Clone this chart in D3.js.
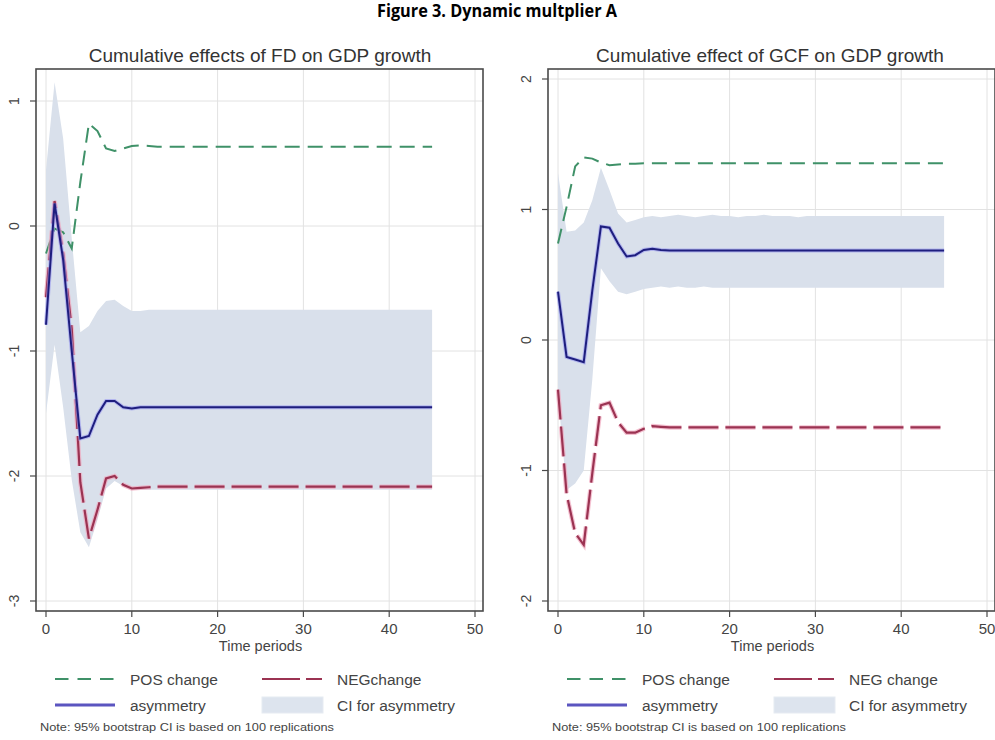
<!DOCTYPE html>
<html>
<head>
<meta charset="utf-8">
<script src="https://cdn.jsdelivr.net/npm/d3@7"></script>
<style>
  body { margin: 0; background: #fff; }
  svg { display: block; }
</style>
</head>
<body>
<svg id="chart"></svg>
<script>
const width = 995, height = 740;
const pos_color = "#3f9168", neg_color = "#9b3352", neg_halo = "#f0a6bd";
const asym_color = "#1e1e7e", asym_halo = "#9a9af0", ci_color = "#d9e0eb";
const grid_color = "#e2e2e2", frame_color = "#4a4a4a", text_color = "#333";
const font_family = "'Liberation Sans', Arial, sans-serif";

// time periods 0..45
const periods = d3.range(0, 46);
const xTicks = [0, 10, 20, 30, 40, 50];

// ---- Panel A: FD ----
const fdPos = [-0.22, -0.02, -0.05, -0.18, 0.35, 0.82, 0.76, 0.62, 0.60, 0.62, 0.64, 0.645, 0.64,
  0.635, 0.635, 0.635, 0.635, 0.635, 0.635, 0.635, 0.635, 0.635, 0.635, 0.635, 0.635, 0.635, 0.635,
  0.635, 0.635, 0.635, 0.635, 0.635, 0.635, 0.635, 0.635, 0.635, 0.635, 0.635, 0.635, 0.635, 0.635,
  0.635, 0.635, 0.635, 0.635, 0.635];
const fdNeg = [-0.57, 0.20, -0.22, -0.82, -2.05, -2.50, -2.27, -2.02, -2.00, -2.07, -2.10, -2.095, -2.09,
  -2.085, -2.085, -2.085, -2.085, -2.085, -2.085, -2.085, -2.085, -2.085, -2.085, -2.085, -2.085, -2.085,
  -2.085, -2.085, -2.085, -2.085, -2.085, -2.085, -2.085, -2.085, -2.085, -2.085, -2.085, -2.085, -2.085,
  -2.085, -2.085, -2.085, -2.085, -2.085, -2.085, -2.085];
const fdAsym = [-0.79, 0.18, -0.27, -1.00, -1.70, -1.68, -1.51, -1.40, -1.40, -1.45, -1.46, -1.45, -1.45,
  -1.45, -1.45, -1.45, -1.45, -1.45, -1.45, -1.45, -1.45, -1.45, -1.45, -1.45, -1.45, -1.45, -1.45,
  -1.45, -1.45, -1.45, -1.45, -1.45, -1.45, -1.45, -1.45, -1.45, -1.45, -1.45, -1.45, -1.45, -1.45,
  -1.45, -1.45, -1.45, -1.45, -1.45];
const fdUpper = [0.45, 1.15, 0.70, -0.10, -0.85, -0.80, -0.68, -0.60, -0.59, -0.64, -0.68, -0.68, -0.67,
  -0.67, -0.67, -0.67, -0.67, -0.67, -0.67, -0.67, -0.67, -0.67, -0.67, -0.67, -0.67, -0.67, -0.67,
  -0.67, -0.67, -0.67, -0.67, -0.67, -0.67, -0.67, -0.67, -0.67, -0.67, -0.67, -0.67, -0.67, -0.67,
  -0.67, -0.67, -0.67, -0.67, -0.67];
const fdLower = [-1.50, -0.95, -1.45, -2.03, -2.45, -2.57, -2.35, -2.10, -2.04, -2.08, -2.11, -2.11, -2.11,
  -2.11, -2.11, -2.11, -2.11, -2.11, -2.11, -2.11, -2.11, -2.11, -2.11, -2.11, -2.11, -2.11, -2.11,
  -2.11, -2.11, -2.11, -2.11, -2.11, -2.11, -2.11, -2.11, -2.11, -2.11, -2.11, -2.11, -2.11, -2.11,
  -2.11, -2.11, -2.11, -2.11, -2.11];
const fdYTicks = [1, 0, -1, -2, -3];

// ---- Panel B: GCF ----
const gcfPos = [0.74, 1.02, 1.33, 1.40, 1.39, 1.36, 1.34, 1.345, 1.35, 1.35, 1.355, 1.355, 1.355,
  1.355, 1.355, 1.355, 1.355, 1.355, 1.355, 1.355, 1.355, 1.355, 1.355, 1.355, 1.355, 1.355, 1.355,
  1.355, 1.355, 1.355, 1.355, 1.355, 1.355, 1.355, 1.355, 1.355, 1.355, 1.355, 1.355, 1.355, 1.355,
  1.355, 1.355, 1.355, 1.355, 1.355];
const gcfNeg = [-0.38, -1.18, -1.48, -1.57, -1.02, -0.50, -0.48, -0.63, -0.71, -0.71, -0.68, -0.66, -0.665,
  -0.67, -0.67, -0.67, -0.67, -0.67, -0.67, -0.67, -0.67, -0.67, -0.67, -0.67, -0.67, -0.67, -0.67,
  -0.67, -0.67, -0.67, -0.67, -0.67, -0.67, -0.67, -0.67, -0.67, -0.67, -0.67, -0.67, -0.67, -0.67,
  -0.67, -0.67, -0.67, -0.67, -0.67];
const gcfAsym = [0.37, -0.13, -0.15, -0.17, 0.38, 0.87, 0.86, 0.74, 0.64, 0.65, 0.69, 0.70, 0.69,
  0.685, 0.685, 0.685, 0.685, 0.685, 0.685, 0.685, 0.685, 0.685, 0.685, 0.685, 0.685, 0.685, 0.685,
  0.685, 0.685, 0.685, 0.685, 0.685, 0.685, 0.685, 0.685, 0.685, 0.685, 0.685, 0.685, 0.685, 0.685,
  0.685, 0.685, 0.685, 0.685, 0.685];
const gcfUpper = [1.28, 0.83, 0.84, 0.90, 1.07, 1.32, 1.15, 0.97, 0.90, 0.92, 0.94, 0.95, 0.94,
  0.95, 0.96, 0.95, 0.94, 0.95, 0.96, 0.95, 0.95, 0.94, 0.95, 0.95, 0.96, 0.95, 0.95,
  0.95, 0.94, 0.95, 0.95, 0.95, 0.95, 0.95, 0.95, 0.95, 0.95, 0.95, 0.95, 0.95, 0.95,
  0.95, 0.95, 0.95, 0.95, 0.95];
const gcfLower = [-0.42, -1.15, -1.10, -1.00, -0.30, 0.55, 0.45, 0.37, 0.35, 0.37, 0.39, 0.40, 0.41,
  0.40, 0.41, 0.40, 0.40, 0.41, 0.40, 0.40, 0.40, 0.40, 0.40, 0.40, 0.40, 0.40, 0.40,
  0.40, 0.40, 0.40, 0.40, 0.40, 0.40, 0.40, 0.40, 0.40, 0.40, 0.40, 0.40, 0.40, 0.40,
  0.40, 0.40, 0.40, 0.40, 0.40];
const gcfYTicks = [2, 1, 0, -1, -2];

const svg = d3.select("#chart")
  .attr("width", width)
  .attr("height", height)
  .style("font-family", font_family);

////////////////////////////////////
//          Main Title            //
////////////////////////////////////

svg.append("text")
  .attr("x", 497)
  .attr("y", 17)
  .attr("text-anchor", "middle")
  .attr("font-family", "'Open Sans', Lato, sans-serif")
  .attr("font-weight", "bold")
  .attr("font-size", "17px")
  .attr("textLength", 240)
  .attr("lengthAdjust", "spacingAndGlyphs")
  .attr("fill", "#000")
  .text("Figure 3. Dynamic multplier A");

////////////////////////////////////
//          Draw a Panel          //
////////////////////////////////////

function drawPanel(opt) {
  const g = svg.append("g").attr("transform", `translate(${opt.left},0)`);
  const frame = { x0: -10, x1: 437, y0: 69, y1: 611 };

  const x = d3.scaleLinear().domain([0, 50]).range([0, 429]);
  const y = d3.scaleLinear().domain(opt.yDomain).range(opt.yRange);

  // subplot title
  g.append("text")
    .attr("x", opt.titleX)
    .attr("y", 62)
    .attr("text-anchor", "middle")
    .attr("font-size", "19px")
    .attr("fill", text_color)
    .text(opt.title);

  // grid
  g.selectAll(".vgrid").data(xTicks).enter().append("line")
    .attr("x1", d => x(d)).attr("x2", d => x(d))
    .attr("y1", frame.y0).attr("y2", frame.y1)
    .attr("stroke", grid_color).attr("stroke-width", 1);
  g.selectAll(".hgrid").data(opt.yTicks).enter().append("line")
    .attr("x1", frame.x0).attr("x2", frame.x1)
    .attr("y1", d => y(d)).attr("y2", d => y(d))
    .attr("stroke", grid_color).attr("stroke-width", 1);

  // CI band
  const area = d3.area()
    .x((d, i) => x(periods[i]))
    .y0((d, i) => y(opt.lower[i]))
    .y1((d, i) => y(opt.upper[i]));
  g.append("path")
    .datum(opt.upper)
    .attr("d", area)
    .attr("fill", ci_color);

  const line = d3.line()
    .x((d, i) => x(periods[i]))
    .y(d => y(d));

  // POS change
  g.append("path").datum(opt.pos).attr("d", line)
    .attr("fill", "none").attr("stroke", pos_color)
    .attr("stroke-width", 2).attr("stroke-dasharray", "15,8");

  // NEG change (with pinkish halo)
  g.append("path").datum(opt.neg).attr("d", line)
    .attr("fill", "none").attr("stroke", neg_halo).attr("stroke-opacity", 0.7)
    .attr("stroke-width", 4.5).attr("stroke-dasharray", "30,7");
  g.append("path").datum(opt.neg).attr("d", line)
    .attr("fill", "none").attr("stroke", neg_color)
    .attr("stroke-width", 2.2).attr("stroke-dasharray", "30,7");

  // asymmetry
  g.append("path").datum(opt.asym).attr("d", line)
    .attr("fill", "none").attr("stroke", asym_halo).attr("stroke-opacity", 0.6)
    .attr("stroke-width", 4);
  g.append("path").datum(opt.asym).attr("d", line)
    .attr("fill", "none").attr("stroke", asym_color)
    .attr("stroke-width", 2);

  // frame
  g.append("rect")
    .attr("x", frame.x0).attr("y", frame.y0)
    .attr("width", frame.x1 - frame.x0).attr("height", frame.y1 - frame.y0)
    .attr("fill", "none").attr("stroke", frame_color).attr("stroke-width", 1.6);

  // y axis ticks + rotated labels
  g.selectAll(".ytick").data(opt.yTicks).enter().append("line")
    .attr("x1", frame.x0 - 6).attr("x2", frame.x0)
    .attr("y1", d => y(d)).attr("y2", d => y(d))
    .attr("stroke", frame_color).attr("stroke-width", 1.2);
  g.selectAll(".ylab").data(opt.yTicks).enter().append("text")
    .attr("transform", d => `translate(${frame.x0 - 17},${y(d)}) rotate(-90)`)
    .attr("text-anchor", "middle")
    .attr("font-size", "14px")
    .attr("fill", "#444")
    .text(d => d);

  // x axis ticks + labels
  g.selectAll(".xtick").data(xTicks).enter().append("line")
    .attr("x1", d => x(d)).attr("x2", d => x(d))
    .attr("y1", frame.y1).attr("y2", frame.y1 + 6)
    .attr("stroke", frame_color).attr("stroke-width", 1.2);
  g.selectAll(".xlab").data(xTicks).enter().append("text")
    .attr("x", d => x(d))
    .attr("y", 634)
    .attr("text-anchor", "middle")
    .attr("font-size", "15px")
    .attr("fill", "#444")
    .text(d => d);

  g.append("text")
    .attr("x", x(25))
    .attr("y", 651)
    .attr("text-anchor", "middle")
    .attr("font-size", "14.5px")
    .attr("fill", "#444")
    .text("Time periods");

  ////////////////////////////////////
  //            Legend              //
  ////////////////////////////////////
  const lg = g.append("g").attr("transform", `translate(${opt.legendX},0)`);
  lg.append("line").attr("x1", 0).attr("x2", 60).attr("y1", 679).attr("y2", 679)
    .attr("stroke", pos_color).attr("stroke-width", 2).attr("stroke-dasharray", "13.5,9");
  lg.append("text").attr("x", 75).attr("y", 684.5).attr("font-size", "15.5px")
    .attr("fill", "#444").text("POS change");
  lg.append("line").attr("x1", 207).attr("x2", 267).attr("y1", 679).attr("y2", 679)
    .attr("stroke", neg_color).attr("stroke-width", 2).attr("stroke-dasharray", "38,6");
  lg.append("text").attr("x", 282).attr("y", 684.5).attr("font-size", "15.5px")
    .attr("fill", "#444").text(opt.negLabel);

  lg.append("line").attr("x1", 0).attr("x2", 60).attr("y1", 705).attr("y2", 705)
    .attr("stroke", "#5b55c0").attr("stroke-width", 3);
  lg.append("text").attr("x", 75).attr("y", 710.5).attr("font-size", "15.5px")
    .attr("fill", "#444").text("asymmetry");
  lg.append("rect").attr("x", 207).attr("y", 697).attr("width", 61).attr("height", 16)
    .attr("fill", "#dde4ee").attr("stroke", "#e6ebf2");
  lg.append("text").attr("x", 282).attr("y", 710.5).attr("font-size", "15.5px")
    .attr("fill", "#444").text("CI for asymmetry");

  g.append("text")
    .attr("x", opt.noteX)
    .attr("y", 731)
    .attr("font-size", "10.5px")
    .attr("textLength", 294)
    .attr("lengthAdjust", "spacingAndGlyphs")
    .attr("fill", "#444")
    .text("Note: 95% bootstrap CI is based on 100 replications");
}

drawPanel({
  left: 46,
  title: "Cumulative effects of FD on GDP growth",
  titleX: 214,
  yDomain: [-3, 1], yRange: [601, 101], yTicks: fdYTicks,
  pos: fdPos, neg: fdNeg, asym: fdAsym, upper: fdUpper, lower: fdLower,
  legendX: 9, negLabel: "NEGchange", noteX: -6
});

drawPanel({
  left: 558,
  title: "Cumulative effect of GCF on GDP growth",
  titleX: 212,
  yDomain: [-2, 2], yRange: [601, 79], yTicks: gcfYTicks,
  pos: gcfPos, neg: gcfNeg, asym: gcfAsym, upper: gcfUpper, lower: gcfLower,
  legendX: 9, negLabel: "NEG change", noteX: -6
});
</script>
</body>
</html>
